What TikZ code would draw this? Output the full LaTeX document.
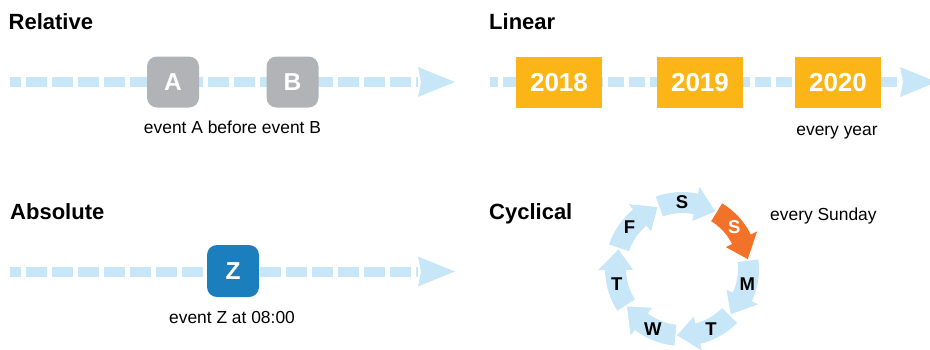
\documentclass[tikz,border=0pt]{standalone}
\usepackage{fontspec}
\setmainfont{Liberation Sans}
\usetikzlibrary{calc}
\definecolor{lblue}{HTML}{C7E7F9}
\definecolor{gbox}{HTML}{B1B3B6}
\definecolor{zblue}{HTML}{1B7EBD}
\definecolor{yorange}{HTML}{FBB516}
\definecolor{sorange}{HTML}{F3722A}
\begin{document}
\begin{tikzpicture}[x=1pt,y=-1pt,
 title/.style={anchor=base west, inner sep=0, font=\fontsize{22}{26}\selectfont\bfseries},
 lbl/.style={anchor=base, inner sep=0, font=\fontsize{17.4}{20}\selectfont},
 lblw/.style={anchor=base west, inner sep=0, font=\fontsize{17.4}{20}\selectfont},
 dashA/.style={draw=lblue, line width=10pt, dash pattern=on 21pt off 5pt, dash phase=10pt},
 dashB/.style={draw=lblue, line width=10pt, dash pattern=on 16pt off 5pt, dash phase=8pt},
 evbox/.style={rounded corners=10pt, minimum width=52pt, minimum height=51pt, inner sep=0, text=white, font=\fontsize{24.5}{28}\selectfont\bfseries},
 yrbox/.style={fill=yorange, minimum width=86pt, minimum height=51pt, inner sep=0, text=white, font=\fontsize{26}{28}\selectfont\bfseries},
 day/.style={inner sep=0, font=\fontsize{18.5}{20}\selectfont\bfseries},
 headpic/.pic={\fill[lblue] (0,-15) -- (37,0) -- (0,15) -- (3,0) -- cycle;}
]
\useasboundingbox (0,0) rectangle (930,349);
\clip (0,0) rectangle (930,349);

% Relative
\node[title] (tRel) at (8.5,29) {Relative};
\coordinate (r0) at (10,82);
\coordinate (r1) at (418,82);
\draw[dashA] (r0) -- (r1);
\pic at (r1) {headpic};
\node[evbox, fill=gbox] (A) at (173,82) {A};
\node[evbox, fill=gbox] (B) at (292.5,82) {B};
\node[lbl] (relL) at (232.5,133) {event A before event B};

% Linear
\node[title] (tLin) at (489,29) {Linear};
\coordinate (l0) at (490,82);
\coordinate (l1) at (900,82);
\draw[dashB] (l0) -- (l1);
\pic at (l1) {headpic};
\node[yrbox] (y18) at (559,82.5) {2018};
\node[yrbox] (y19) at (700,82.5) {2019};
\node[yrbox] (y20) at (838,82.5) {2020};
\node[lbl] (linL) at (837,135) {every year};

% Absolute
\node[title] (tAbs) at (10,219) {Absolute};
\coordinate (a0) at (10,271.5);
\coordinate (a1) at (418,271.5);
\draw[dashA] (a0) -- (a1);
\pic at (a1) {headpic};
\node[evbox, fill=zblue, minimum height=52pt] (Z) at (233,271) {Z};
\node[lbl] (absL) at (232,323) {event Z at 08:00};

% Cyclical
\node[title] (tCyc) at (489,219) {Cyclical};
\node[lblw] (cycL) at (770,220) {every Sunday};
\begin{scope}[shift={(682,269)}, yscale=-1]
\foreach \k/\d/\c/\t in {0/S/lblue/black,1/S/sorange/white,2/M/lblue/black,3/T/lblue/black,4/W/lblue/black,5/T/lblue/black,6/F/lblue/black}{
  \pgfmathsetmacro{\ta}{110-51.4286*\k}
  \pgfmathsetmacro{\tt}{\ta-50}
  \pgfmathsetmacro{\th}{\tt+18}
  \pgfmathsetmacro{\tl}{\ta-20}
  \fill[\c] (\ta:77) arc[start angle=\ta, end angle=\th, radius=77]
     -- (\th:84) -- (\tt:66.5) -- (\th:49) -- (\th:56)
     arc[start angle=\th, end angle=\ta, radius=56] -- cycle;
  \node[day, text=\t] (d\k) at (\tl:67) {\d};
}
\end{scope}
\end{tikzpicture}
\end{document}
